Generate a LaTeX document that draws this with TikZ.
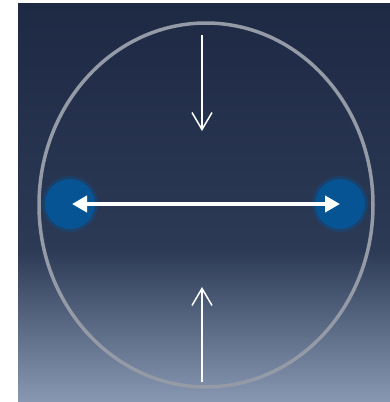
\documentclass[tikz,border=0pt]{standalone}
\usetikzlibrary{arrows.meta}
\definecolor{bgtop}{RGB}{30,41,68}
\definecolor{bgmid}{RGB}{44,58,86}
\definecolor{bgbot}{RGB}{136,152,178}
\definecolor{ring}{RGB}{148,154,166}
\definecolor{dot}{RGB}{6,84,148}
\tikzset{
  ringline/.style={draw=ring,line width=3.5pt},
  blob/.style={circle,fill=dot,minimum size=50pt,inner sep=0pt},
  thin arrow/.style={draw=white,line width=1.5pt,-{Straight Barb[length=17pt,width=20pt,line width=1.5pt]}},
  thick arrow/.style={draw=white,line width=4pt,{Triangle[length=15pt,width=16pt]}-{Triangle[length=15pt,width=16pt]}}
}
\begin{document}
\begin{tikzpicture}[x=1pt,y=-1pt]
\useasboundingbox (0,0) rectangle (390,402);
\shade[top color=bgtop,bottom color=bgmid] (18,3) rectangle (390,250);
\shade[top color=bgmid,bottom color=bgbot] (18,250) rectangle (390,402);
\fill[dot,opacity=0.35] (70,204) circle (28);
\fill[dot,opacity=0.35] (340,204) circle (28);
\node[blob] (left) at (70,204) {};
\node[blob] (right) at (340,204) {};
\draw[ringline] (206,205) ellipse [x radius=167,y radius=182];
\coordinate (lt) at (72,204);
\coordinate (rt) at (340,204);
\draw[thick arrow] (lt) -- (rt);
\coordinate (ts) at (202,35);
\coordinate (te) at (202,131);
\coordinate (bs) at (202,382);
\coordinate (be) at (202,287);
\draw[thin arrow] (ts) -- (te);
\draw[thin arrow] (bs) -- (be);
\end{tikzpicture}
\end{document}
